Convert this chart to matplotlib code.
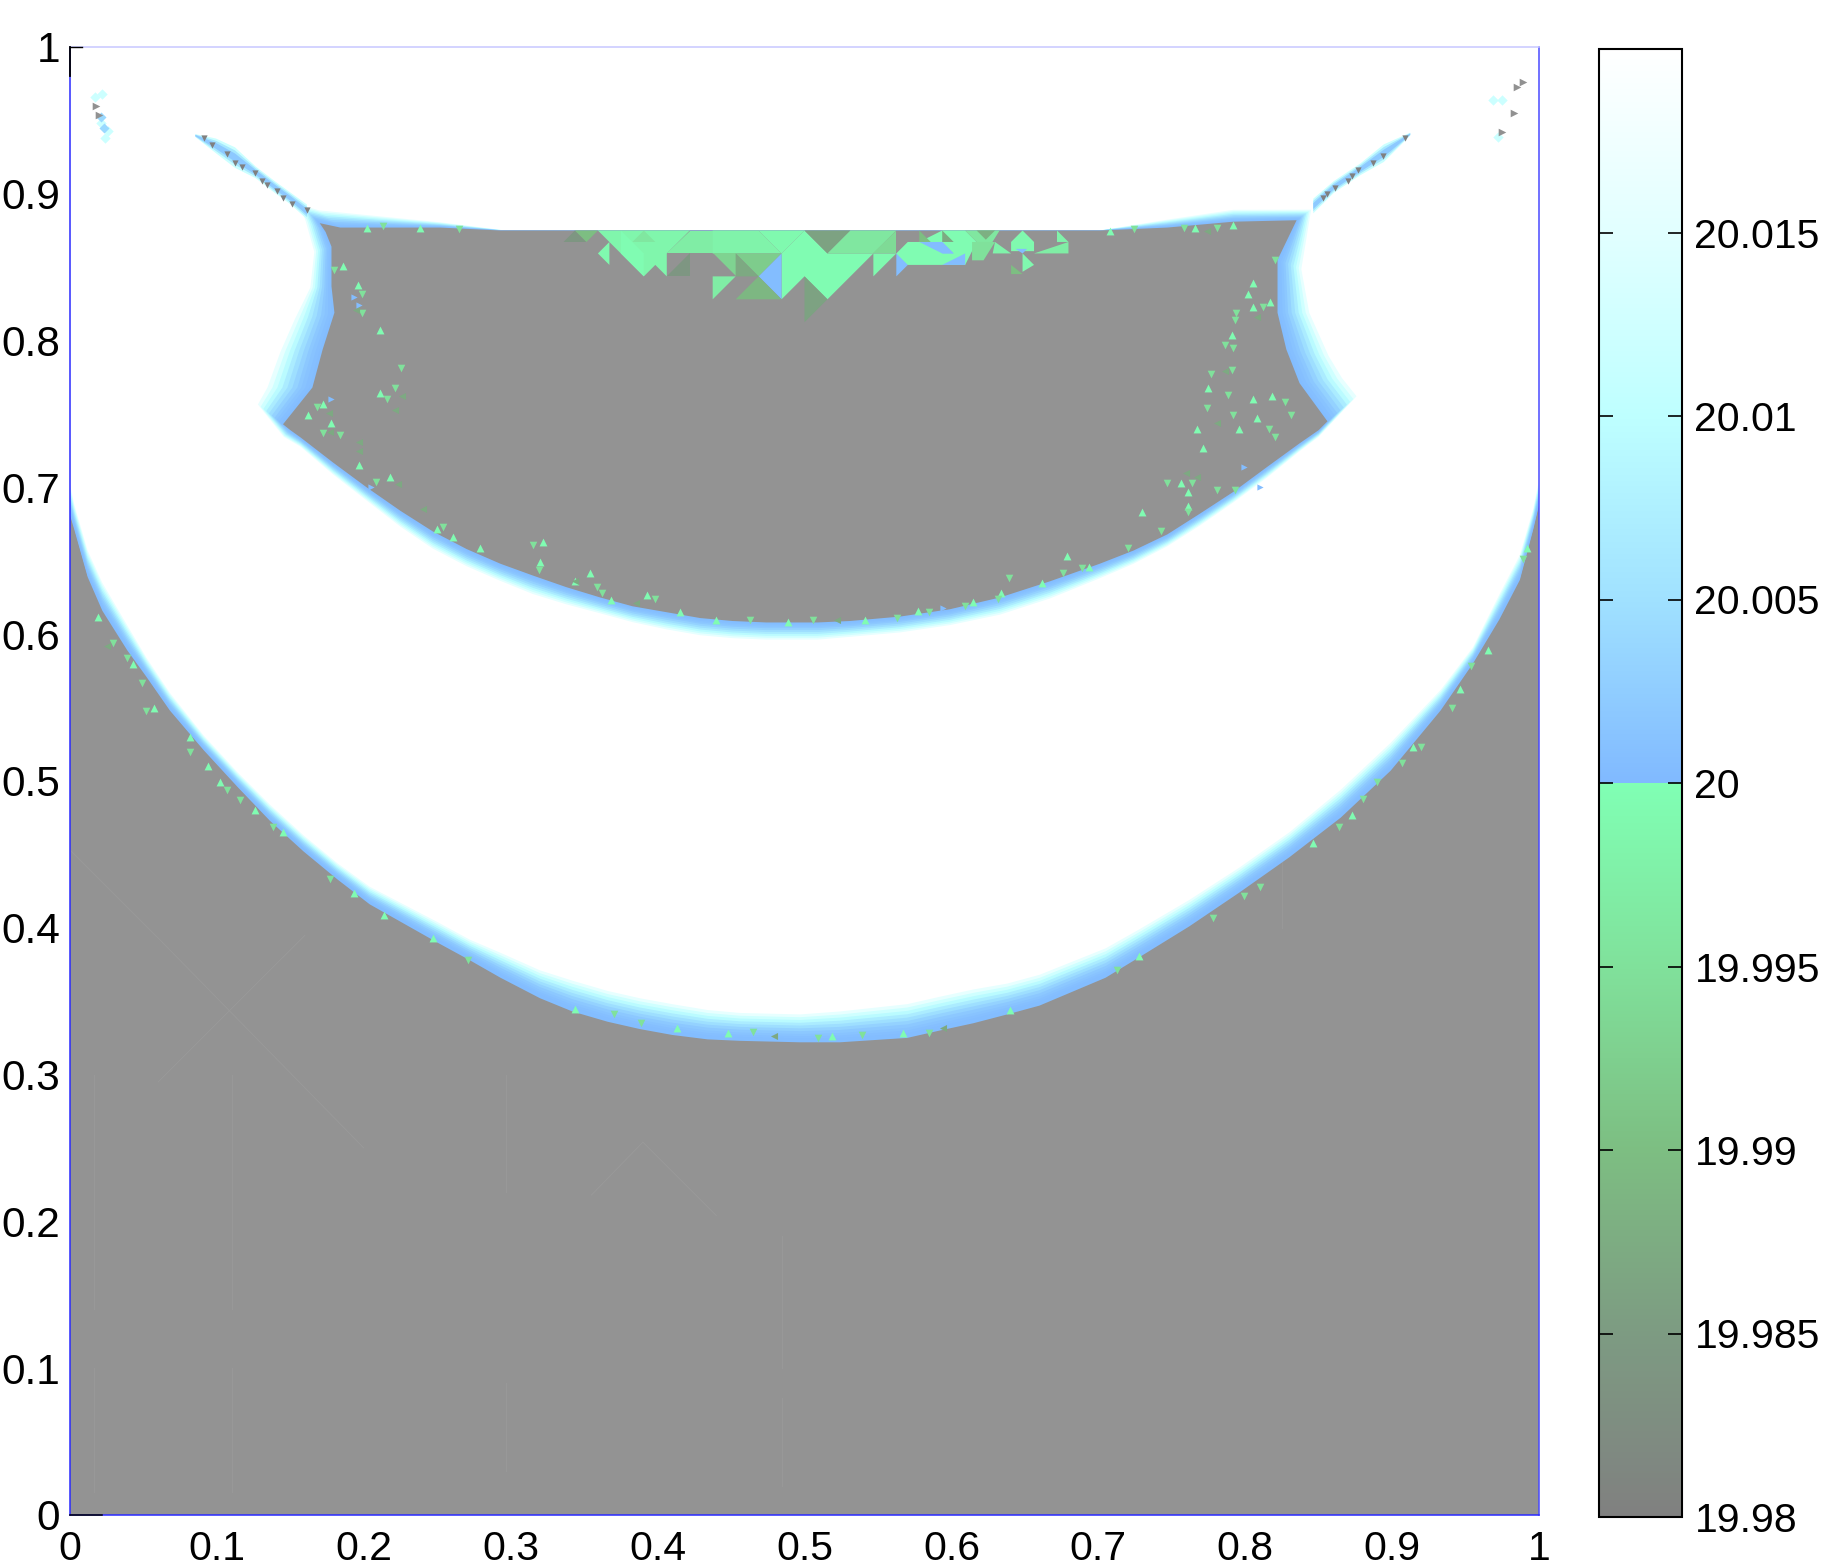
import numpy as np
import matplotlib
matplotlib.use("Agg")
import matplotlib.pyplot as plt
from matplotlib.colors import LinearSegmentedColormap, Normalize
from matplotlib.cm import ScalarMappable

plt.rcParams['font.family'] = ['Liberation Sans', 'DejaVu Sans']

# ---------- colour scale ----------
scale_values = [19.98, 19.985, 19.99, 19.995, 20.0, 20.0, 20.005, 20.01, 20.015, 20.02]
scale_colors = ['#808080', '#7d9b82', '#7dbe82', '#80e19b', '#80ffb4',
                '#80b9ff', '#a0e1ff', '#beffff', '#e1ffff', '#ffffff']
cbar_ticks = [19.98, 19.985, 19.99, 19.995, 20.0, 20.005, 20.01, 20.015]
cbar_labels = ['19.98', '19.985', '19.99', '19.995', '20', '20.005', '20.01', '20.015']
axis_ticks = [0, .1, .2, .3, .4, .5, .6, .7, .8, .9, 1]
axis_labels = ['0', '0.1', '0.2', '0.3', '0.4', '0.5', '0.6', '0.7', '0.8', '0.9', '1']
field_gray = '#939393'

# ---------- lower front (value 20 edge and value 20.02 edge) ----------
lower_x = [0, .003, .012, .022, .039, .052, .068, .091, .114, .136, .159, .182, .204, .227, .250,
           .272, .293, .320, .342, .366, .388, .410, .434, .456, .497, .524, .570, .592, .615,
           .638, .660, .705, .728, .762, .796, .830, .865, .899, .933, .955, .973, .987, .996, 1]
lower_edge_y = [.681, .671, .639, .616, .589, .571, .548, .521, .496, .473, .452, .433, .416, .403, .390,
                .378, .366, .352, .343, .336, .331, .327, .324, .323, .322, .322, .325, .330, .335,
                .341, .347, .366, .380, .401, .424, .448, .475, .507, .548, .580, .610, .637, .671, .688]
lower_top_y = [.702, .688, .657, .635, .606, .584, .560, .531, .506, .484, .463, .444, .428, .416, .404,
               .392, .383, .371, .364, .357, .352, .348, .344, .342, .341, .343, .348, .353, .358,
               .362, .368, .386, .399, .419, .441, .465, .494, .526, .562, .591, .627, .654, .685, .705]

# ---------- upper pocket outline ----------
pocket_edge_x = [.170, .184, .252, .293, .701, .747, .792, .835, .822, .822, .828, .837, .856, .850, .837,
                 .815, .792, .769, .747, .724, .701, .667, .633, .599, .565, .531, .509, .474, .451, .429,
                 .406, .383, .361, .338, .315, .293, .270, .247, .225, .202, .179, .157, .150, .145, .165,
                 .172, .180, .178, .178, .174]
pocket_edge_y = [.880, .877, .877, .875, .875, .877, .881, .882, .855, .819, .794, .771, .745, .739, .730,
                 .714, .697, .682, .668, .657, .648, .636, .625, .617, .612, .609, .608, .608, .609, .611,
                 .615, .619, .625, .632, .640, .648, .658, .670, .684, .700, .717, .734, .739, .743, .768,
                 .794, .819, .837, .864, .874]
pocket_out_x = [.155, .168, .252, .297, .701, .747, .792, .846, .840, .846, .860, .869, .878, .850, .837,
                .815, .792, .769, .747, .724, .701, .667, .633, .599, .565, .531, .509, .474, .451, .429,
                .406, .383, .361, .338, .315, .293, .270, .247, .225, .202, .179, .157, .145, .126, .131,
                .140, .150, .162, .165, .159]
pocket_out_y = [.894, .890, .881, .875, .875, .883, .890, .890, .848, .819, .789, .775, .764, .734, .724,
                .706, .689, .673, .659, .647, .637, .623, .612, .605, .600, .597, .595, .595, .596, .598,
                .602, .607, .613, .619, .626, .635, .645, .657, .672, .690, .708, .727, .734, .758, .768,
                .792, .814, .836, .860, .882]

# ---------- thin spikes at the pocket corners ----------
spike_left_x = [.085, .099, .112, .126, .139, .150, .161]
spike_left_y = [.940, .933, .925, .915, .905, .897, .888]
spike_left_half = [.001, .005, .007, .004, .004, .004, .005]
spike_right_x = [.846, .860, .878, .894, .912]
spike_right_y = [.892, .905, .917, .928, .941]
spike_right_half = [.005, .004, .004, .006, .001]
teeth_x = [.091, .097, .107, .112, .117, .126, .131, .134, .141, .145, .151, .161,
           .909, .894, .887, .877, .873, .870, .861, .856, .853]
teeth_y = [.938, .933, .927, .921, .918, .914, .909, .906, .902, .897, .893, .889,
           .938, .926, .921, .916, .912, .909, .904, .900, .897]

# ---------- isolated corner cells ----------
pale_x = [.022, .017, .024, .021, .026, .972, .969, .975]
pale_y = [.968, .966, .938, .948, .943, .939, .964, .964]
blue_x = [.023, .021]
blue_y = [.945, .952]
corner_gray_x = [.018, .020, .989, .985, .983, .975]
corner_gray_y = [.960, .954, .976, .973, .955, .942]

# ---------- coarse cells below the pocket's flat top: value, (i, j) corners on a 1/64 grid ----------
cell_values = [19.984, 19.99, 19.9985, 19.9995, 19.996, 19.997, 19.998, 19.999, 19.9995, 19.986, 19.996, 19.994,
               19.984, 19.993, 19.992, 19.987, 20.0005, 19.997, 19.989, 19.986, 19.999, 20.0005, 19.999,
               19.9995, 20.0005, 20.0005, 20.0005, 19.99, 19.987, 19.996, 19.995, 19.998, 19.988, 19.999,
               19.997, 19.999, 19.99, 20.0005, 19.998]
cell_corners = [
    [(21.5, 55.5), (22, 56), (22.5, 55.5)],
    [(22, 56), (23, 56), (22.5, 55.5)],
    [(23, 56), (27, 56), (26, 55), (26, 54), (25.5, 54.5), (25, 54)],
    [(24, 56), (24, 55), (25, 54), (25, 55)],
    [(24.5, 55.5), (25, 56), (25.5, 55.5)],
    [(27, 56), (28, 56), (28, 55), (26, 55)],
    [(28, 56), (28, 55), (31, 55), (30, 56)],
    [(30, 56), (32, 56), (31, 55)],
    [(32, 56), (31, 55), (31, 53), (32, 54), (33, 53), (35, 55), (33, 55)],
    [(32, 56), (34, 56), (33, 55)],
    [(33, 55), (34, 56), (36, 56), (35, 55)],
    [(36, 56), (36, 55), (35, 55)],
    [(27, 55), (27, 54), (26, 54)],
    [(28, 55), (29, 55), (29, 54)],
    [(29, 55), (31, 55), (30, 54)],
    [(29, 55), (30, 54), (29, 54)],
    [(31, 55), (30, 54), (31, 53)],
    [(28, 54), (29, 54), (28, 53)],
    [(29, 53), (30, 54), (31, 53)],
    [(32, 54), (33, 53), (32, 52)],
    [(35, 55), (36, 55), (35, 54)],
    [(36, 55), (36.5, 55), (36.5, 54.5), (36, 54)],
    [(23, 55), (23.5, 55.5), (23.5, 54.5)],
    [(36, 55), (36.5, 55.5), (37, 55.5), (38, 56), (39, 56), (39.5, 55.5), (39, 54.5), (36.5, 54.5)],
    [(37, 55.5), (38, 55.5), (38.5, 55), (38, 55)],
    [(38, 54.5), (39, 55), (39, 54.5)],
    [(38, 55.5), (38.5, 55), (38, 55)],
    [(37, 56), (37.5, 55.5), (37, 55.5)],
    [(38, 56), (38.5, 55.5), (38, 55.5)],
    [(39, 56), (40.5, 56), (40, 55.2), (39.5, 55.5)],
    [(39.3, 55.5), (40.3, 55.5), (39.8, 54.7), (39.3, 54.7)],
    [(40.3, 55.5), (41, 55), (40.2, 55)],
    [(39.5, 56), (40.3, 56), (39.9, 55.6)],
    [(41, 55.5), (41.5, 56), (42, 55.5), (42, 55.1), (41, 55.1)],
    [(42, 55), (43.5, 55.5), (43.5, 55), (42.5, 55)],
    [(41.5, 55), (42, 54.5), (41.5, 54.2)],
    [(41, 54.5), (41.5, 54.1), (41, 54.1)],
    [(41.2, 55.2), (41.7, 55.2), (41.5, 55)],
    [(43, 56), (43.5, 55.5), (43, 55.5)],
]

# ---------- scattered cells near the fronts ----------
specks_light = [(.186, .851), (.196, .838), (.211, .807), (.211, .764), (.162, .749), (.172, .757), (.178, .744),
                (.197, .715), (.218, .707), (.805, .839), (.802, .832), (.817, .826), (.805, .823), (.791, .804),
                (.775, .768), (.805, .760), (.818, .762), (.767, .740), (.771, .727), (.796, .740), (.808, .747),
                (.250, .672), (.261, .666), (.279, .659), (.322, .663), (.320, .649), (.354, .642), (.344, .636),
                (.368, .623), (.393, .627), (.415, .615), (.440, .610), (.489, .608), (.541, .610), (.577, .616),
                (.615, .622), (.634, .628), (.662, .635), (.679, .653), (.694, .646), (.730, .683), (.761, .687),
                (.761, .697), (.756, .703), (.019, .612), (.043, .580), (.057, .550), (.082, .530), (.094, .510),
                (.102, .499), (.126, .480), (.145, .465), (.193, .424), (.214, .409), (.247, .393), (.344, .345),
                (.413, .332), (.448, .328), (.519, .326), (.567, .328), (.640, .344), (.992, .659), (.965, .589),
                (.946, .563), (.914, .523), (.873, .477), (.846, .458), (.728, .381), (.202, .877), (.238, .877),
                (.766, .877), (.792, .879), (.708, .875)]
specks_mid = [(.180, .848), (.199, .832), (.199, .819), (.225, .781), (.221, .768), (.216, .760), (.168, .755),
              (.172, .737), (.184, .736), (.208, .704), (.820, .855), (.812, .823), (.794, .819), (.793, .814),
              (.786, .797), (.792, .795), (.777, .777), (.791, .780), (.788, .763), (.827, .758), (.831, .749),
              (.792, .749), (.774, .754), (.816, .740), (.820, .734), (.254, .673), (.315, .661), (.319, .644),
              (.359, .632), (.362, .628), (.398, .624), (.463, .610), (.506, .610), (.563, .611), (.585, .615),
              (.609, .619), (.632, .624), (.639, .638), (.676, .642), (.689, .645), (.720, .659), (.743, .670),
              (.761, .683), (.781, .698), (.793, .698), (.747, .703), (.764, .703), (.029, .594), (.039, .584),
              (.049, .567), (.052, .548), (.082, .520), (.107, .494), (.116, .487), (.138, .469), (.177, .433),
              (.271, .378), (.370, .341), (.389, .335), (.465, .329), (.509, .325), (.539, .327), (.585, .328),
              (.989, .651), (.954, .578), (.941, .550), (.920, .523), (.907, .512), (.890, .499), (.880, .488),
              (.864, .469), (.810, .428), (.799, .422), (.778, .407), (.713, .371), (.213, .878), (.265, .876),
              (.724, .876), (.758, .877), (.781, .877)]
specks_dark = [(.195, .821), (.226, .762), (.221, .753), (.176, .751), (.177, .738), (.197, .731), (.197, .725),
               (.223, .702), (.240, .685), (.786, .779), (.781, .744), (.808, .816), (.760, .710), (.767, .707),
               (.344, .636), (.385, .621), (.522, .610), (.594, .332), (.479, .326), (.025, .592), (.774, .875)]
specks_blue = [(.799, .714), (.193, .830), (.197, .824), (.205, .700), (.810, .700), (.178, .760), (.594, .618)]

# ---------- faint mesh traces in the flat field ----------
trace_x0 = [.016, .110, .016, .110, .297, .297, .485, .485, .297, .825, .485, 0.0, .063, .060, .355, .39, .43, .53]
trace_y0 = [.016, .016, .14, .14, .03, .22, .02, .10, .80, .40, .70, .453, .39, .295, .218, .254, .62, .67]
trace_x1 = [.016, .110, .016, .110, .297, .297, .485, .485, .297, .825, .485, .063, .20, .16, .39, .44, .53, .66]
trace_y1 = [.10, .10, .30, .30, .09, .30, .08, .19, .87, .47, .82, .39, .25, .395, .254, .204, .52, .80]

levels = [0, .06, .14, .22, .30, .40, .50, .60, .70, .80, .90, 1]

# ---------- layout ----------
W, H = 1838, 1567
fig = plt.figure(figsize=(W / 100, H / 100), dpi=100, facecolor='white')
ax = fig.add_axes([70 / W, (H - 1515) / H, 1469 / W, 1468 / H])
cax = fig.add_axes([1599 / W, (H - 1517) / H, 83 / W, 1468 / H])

norm = Normalize(19.98, 20.02)
positions = [round((v - 19.98) / .04, 6) for v in scale_values]
cmap = LinearSegmentedColormap.from_list('field', list(zip(positions, scale_colors)), N=1024)
col = lambda v: cmap(norm(v))
band_color = lambda t: col(20 + .0005 + .0195 * t ** 2.2)

# flat field
ax.fill([0, 1, 1, 0], [0, 0, 1, 1], color=field_gray, lw=0, zorder=1)
ax.plot(np.array([trace_x0, trace_x1]), np.array([trace_y0, trace_y1]),
        color='#9a9a9a', lw=0.6, zorder=1.2)

# lower front, from the field side up to white
lx, ly0, ly1 = map(np.array, (lower_x, lower_edge_y, lower_top_y))
for t in levels:
    yy = ly0 + t * (ly1 - ly0)
    ax.fill(np.r_[lx, 1, 0], np.r_[yy, 1.0, 1.0], color=band_color(t), lw=0, zorder=2)

# pocket, from white inward to the field
ex, ey, ox, oy = map(np.array, (pocket_edge_x, pocket_edge_y, pocket_out_x, pocket_out_y))
for t in levels[::-1]:
    if t == 0:
        continue
    ax.fill(ex + t * (ox - ex), ey + t * (oy - ey), color=band_color(t), lw=0, zorder=3)
ax.fill(ex, ey, color=field_gray, lw=0, zorder=3.5)

# spikes
for sx, sy, sh in ((spike_left_x, spike_left_y, spike_left_half),
                   (spike_right_x, spike_right_y, spike_right_half)):
    sx, sy, sh = map(np.array, (sx, sy, sh))
    for f, v in ((1.0, 20.012), (.7, 20.006), (.4, 20.002)):
        ax.fill_between(sx, sy - f * sh, sy + f * sh, color=col(v), lw=0, zorder=3.2)
ax.scatter(teeth_x, teeth_y, s=20, marker='v', color='#808080', lw=0, zorder=3.6)
ax.scatter(pale_x, pale_y, s=28, marker='D', color=col(20.012), lw=0, zorder=3.3)
ax.scatter(blue_x, blue_y, s=26, marker='D', color=col(20.004), lw=0, zorder=3.4)
ax.scatter(corner_gray_x, corner_gray_y, s=30, marker='>', color='#919191', lw=0, zorder=3.6)

# coarse cells
for v, corners in zip(cell_values, cell_corners):
    c = np.array(corners) / 64
    ax.fill(c[:, 0], c[:, 1], color=col(v), lw=0, zorder=4)

# scattered cells
for pts, v, m, s in ((specks_light, 19.9995, '^', 32), (specks_mid, 19.995, 'v', 30),
                     (specks_dark, 19.987, '<', 26), (specks_blue, 20.0005, '>', 20)):
    p = np.array(pts)
    ax.scatter(p[:, 0], p[:, 1], s=s, marker=m, color=col(v), lw=0, zorder=4.5)

ax.set_xlim(0, 1)
ax.set_ylim(0, 1)
ax.set_xticks(axis_ticks, axis_labels)
ax.set_yticks(axis_ticks, axis_labels)
ax.tick_params(axis='x', length=0, labelsize=29.5, colors='black', pad=10.5)
ax.tick_params(axis='y', length=0, labelsize=30.5, colors='black', pad=7)
for side, c in (('left', '#2a2aff'), ('right', '#4a4aff'), ('bottom', '#2a2aff'), ('top', '#c8c8ff')):
    ax.spines[side].set_color(c)
    ax.spines[side].set_linewidth(1.1)
    ax.spines[side].set_zorder(6)
ax.plot([0, 0], [.98, 1], color='black', lw=1.3, zorder=7, clip_on=False)
ax.plot([0, .008], [1, 1], color='black', lw=1.0, zorder=7, clip_on=False)
ax.plot([0, .022], [0, 0], color='black', lw=1.1, zorder=7, clip_on=False)

cb = fig.colorbar(ScalarMappable(norm=norm, cmap=cmap), cax=cax, ticks=cbar_ticks)
cb.set_ticklabels(cbar_labels)
cb.outline.set_edgecolor('black')
cb.outline.set_linewidth(1.5)
cax.tick_params(axis='y', which='major', direction='in', left=True, right=True,
                length=10, width=1.2, labelsize=29.5, pad=9, colors='black')

fig.savefig('out.png', dpi=100, facecolor='white')
